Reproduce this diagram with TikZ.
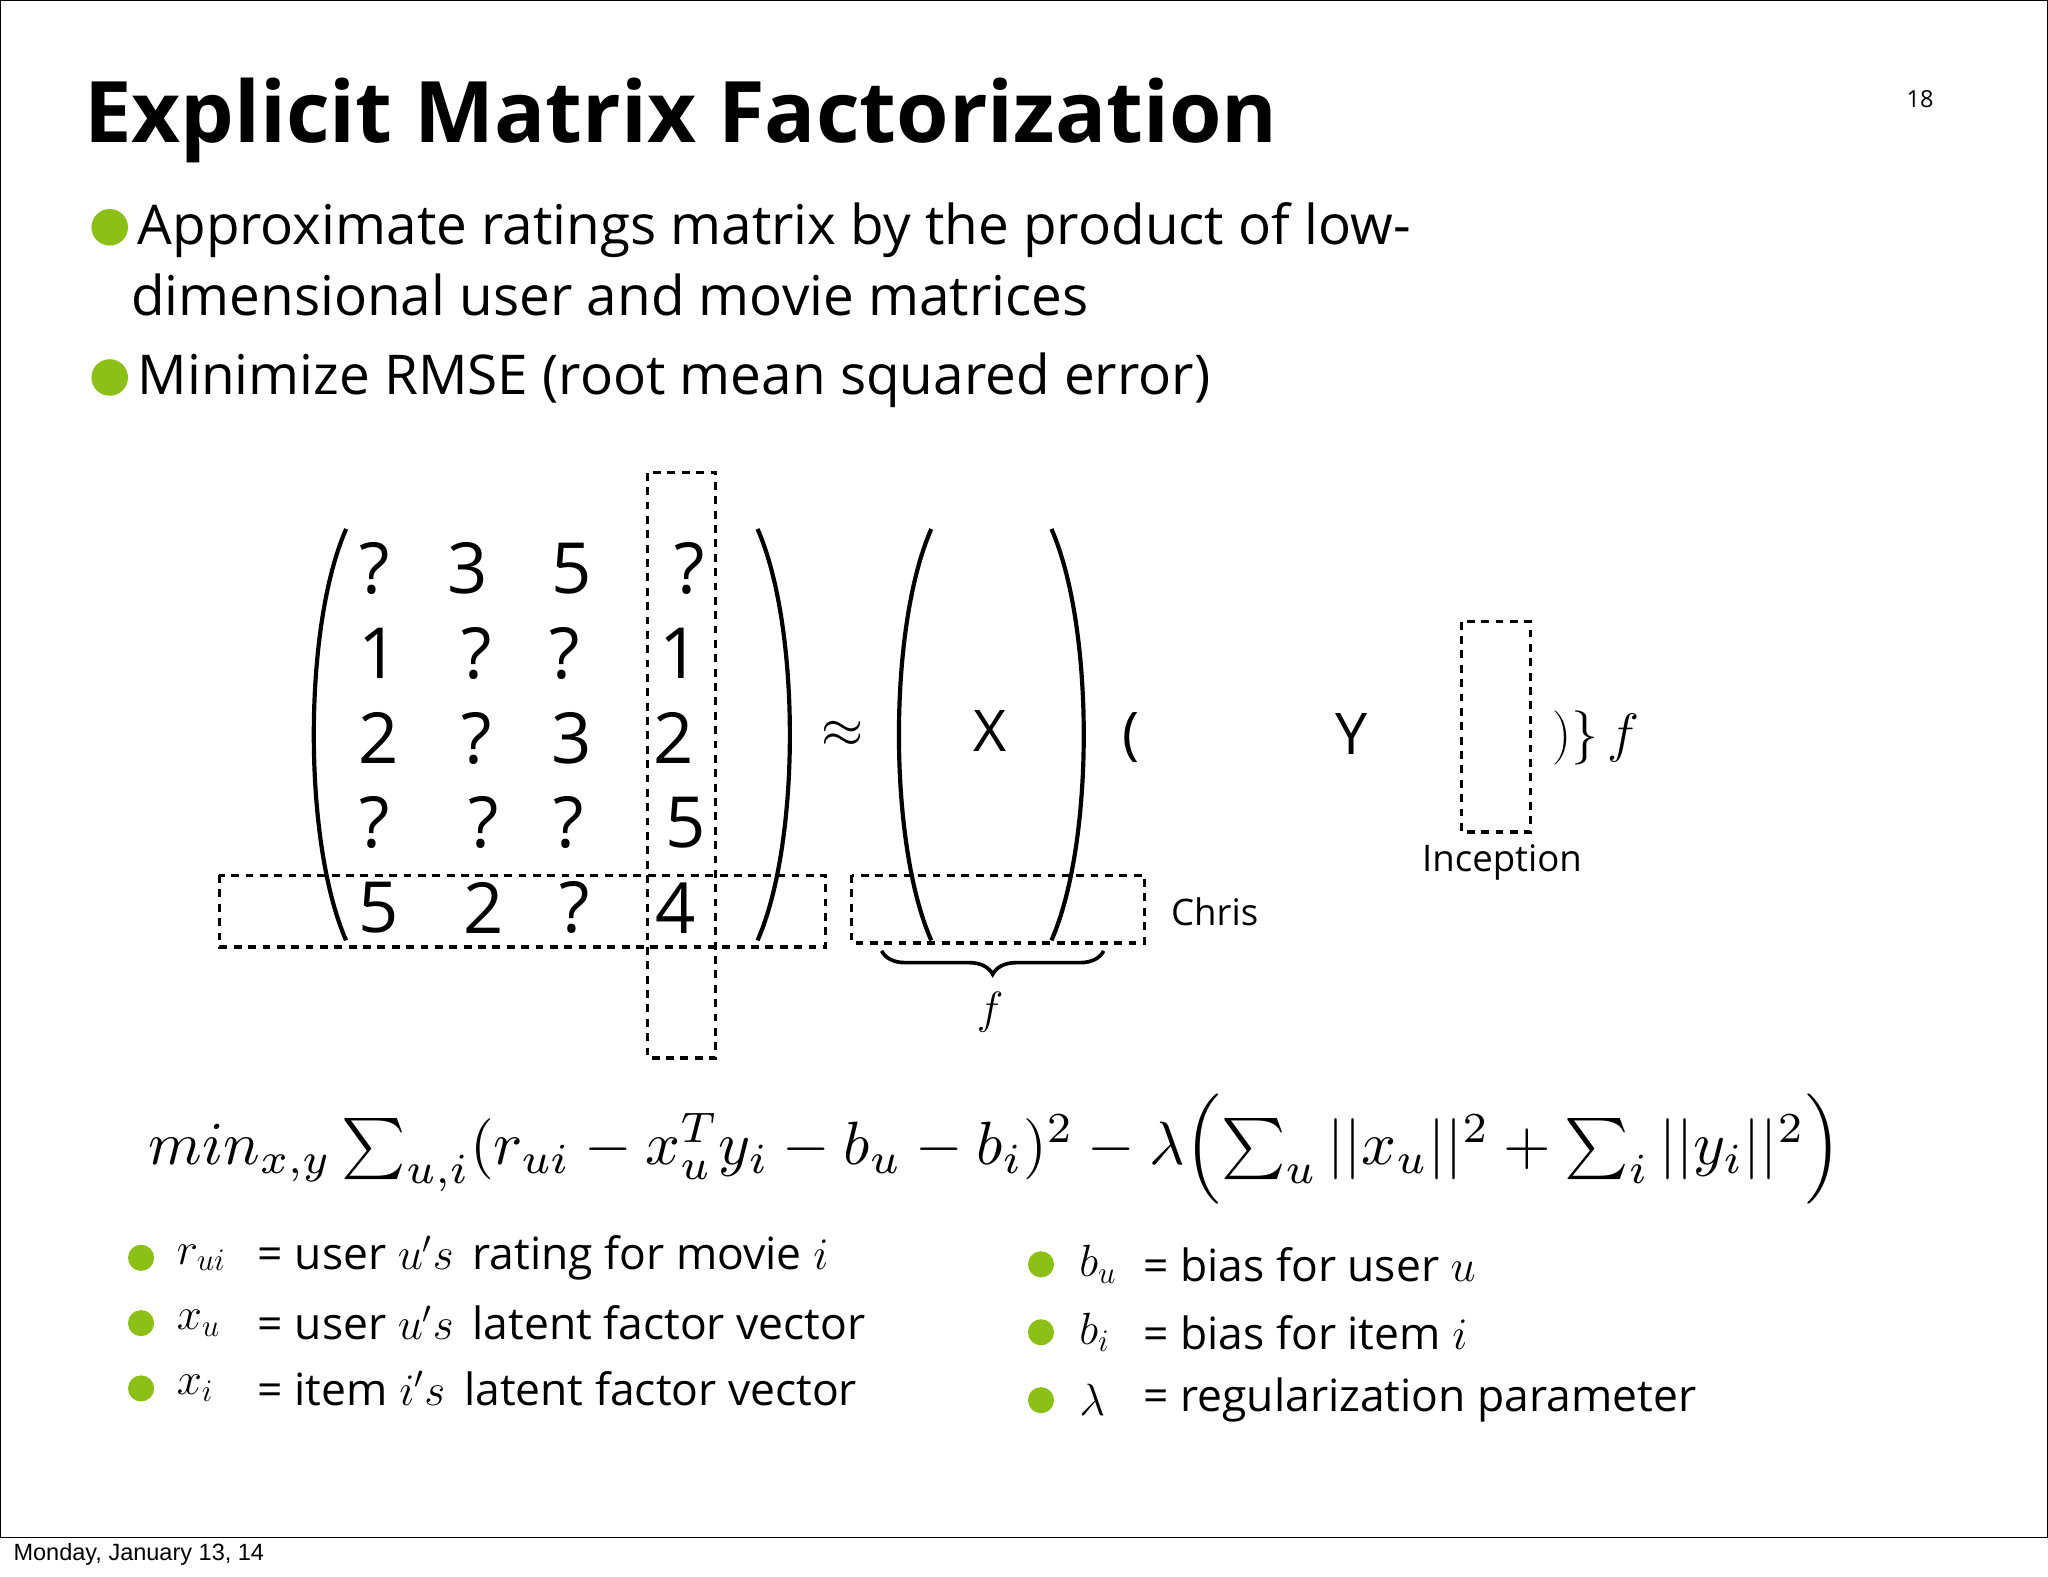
\documentclass[tikz,border=0pt]{standalone}
\usepackage{fontspec}
\setmainfont{Open Sans}
\newfontfamily\footfont{Liberation Sans}
\usepackage{amsmath}
\usetikzlibrary{decorations.pathreplacing}
\definecolor{bgreen}{RGB}{140,192,22}
\tikzset{
 dbox/.style={draw,dashed,line width=1.2pt,dash pattern=on 3pt off 2.5pt},
 par/.style={line width=1.6pt},
 ent/.style={font=\fontsize{27}{30}\selectfont,anchor=center},
 bul/.style={circle,fill=bgreen,inner sep=0pt,minimum size=10pt},
 lst/.style={font=\fontsize{17}{20}\selectfont,anchor=west,inner sep=0pt},
 bod/.style={font=\fontsize{21}{25}\selectfont,anchor=west,inner sep=0pt}
}
\begin{document}
\begin{tikzpicture}[x=0.5pt,y=-0.5pt]
\useasboundingbox (0,0) rectangle (1568,1207);
\fill[white] (0,0) rectangle (1568,1207);
\draw[line width=0.6pt] (0,0) rectangle (1568,1177);
\node[anchor=west,inner sep=0pt] (foot) at (10,1190) {\fontsize{9}{10}\selectfont\footfont Monday, January 13, 14};
\node[anchor=center,inner sep=0pt] (pg) at (1470,76) {\fontsize{9}{10}\selectfont 18};
\node[anchor=west,inner sep=0pt] (title) at (64,92) {\fontsize{32.5}{38}\selectfont\bfseries Explicit Matrix Factorization};
\node[bul,minimum size=14pt] (b1) at (84,174) {};
\node[bod] (t1) at (105,176) {Approximate ratings matrix by the product of low-};
\node[bod] (t1b) at (100,226) {dimensional user and movie matrices};
\node[bul,minimum size=14pt] (b2) at (84,289) {};
\node[bod] (t2) at (105,291) {Minimize RMSE (root mean squared error)};
% matrix
\draw[par] (265,405) .. controls (232,480) and (232,645) .. (265,720);
\draw[par] (580,405) .. controls (613,480) and (613,645) .. (580,720);
\node[ent] (m11) at (287,435) {?}; \node[ent] (m12) at (358,435) {3}; \node[ent] (m13) at (438,435) {5}; \node[ent] (m14) at (528,435) {?};
\node[ent] (m21) at (290,500) {1}; \node[ent] (m22) at (365,500) {?}; \node[ent] (m23) at (432,500) {?}; \node[ent] (m24) at (520,500) {1};
\node[ent] (m31) at (290,565) {2}; \node[ent] (m32) at (365,565) {?}; \node[ent] (m33) at (438,565) {3}; \node[ent] (m34) at (516,565) {2};
\node[ent] (m41) at (287,630) {?}; \node[ent] (m42) at (370,630) {?}; \node[ent] (m43) at (435,630) {?}; \node[ent] (m44) at (525,630) {5};
\node[ent] (m51) at (290,695) {5}; \node[ent] (m52) at (370,695) {2}; \node[ent] (m53) at (440,695) {?}; \node[ent] (m54) at (517,695) {4};
\draw[dbox] (496,362) rectangle (548,810);
\draw[dbox] (168,670) rectangle (632,725);
\node[ent,font=\fontsize{22}{26}\selectfont] (ap) at (645,562) {$\approx$};
\draw[par] (713,405) .. controls (680,480) and (680,645) .. (713,720);
\draw[par] (805,405) .. controls (838,480) and (838,645) .. (805,720);
\node[ent,font=\fontsize{22}{26}\selectfont] (X) at (758,560) {X};
\draw[dbox] (652,670) rectangle (876,722);
\draw[line width=1.4pt,decorate,decoration={brace,mirror,amplitude=9pt}] (675,728) -- (845,728);
\node[ent,font=\fontsize{18}{20}\selectfont] (f1) at (758,775) {$f$};
\node[ent,font=\fontsize{22}{26}\selectfont] (lp) at (866,565) {(};
\node[ent,font=\fontsize{22}{26}\selectfont] (Y) at (1035,562) {Y};
\node[ent,font=\fontsize{22}{26}\selectfont] (rp) at (1222,565) {$)\}\,f$};
\draw[dbox] (1119,476) rectangle (1172,637);
\node[lst,anchor=center] (inc) at (1150,660) {\fontsize{14}{16}\selectfont Inception};
\node[lst,anchor=center] (chr) at (930,698) {\fontsize{14}{16}\selectfont Chris};
% formula
\node[inner sep=0pt] (form) at (762,880) {\resizebox{648pt}{!}{$min_{x,y}\sum_{u,i}(r_{ui}-x_u^Ty_i-b_u-b_i)^2-\lambda\Bigl(\sum_u||x_u||^2+\sum_i||y_i||^2\Bigr)$}};
% lists
\foreach \y/\m/\t [count=\i] in {963/{$r_{ui}$}/{= user $u's$\, rating for movie $i$},1013/{$x_u$}/{= user $u's$\, latent factor vector},1063/{$x_i$}/{= item $i's$\, latent factor vector}}{
 \node[bul] (lb\i) at (108,\y) {};
 \node[lst] (lm\i) at (135,\y) {\m};
 \node[lst] (lt\i) at (197,\y) {\t};
}
\foreach \y/\m/\t [count=\i] in {968/{$b_u$}/{= bias for user $u$},1020/{$b_i$}/{= bias for item $i$},1072/{$\lambda$}/{= regularization parameter}}{
 \node[bul] (rb\i) at (797,\y) {};
 \node[lst] (rm\i) at (826,\y) {\m};
 \node[lst] (rt\i) at (875,\y) {\t};
}
\end{tikzpicture}
\end{document}
